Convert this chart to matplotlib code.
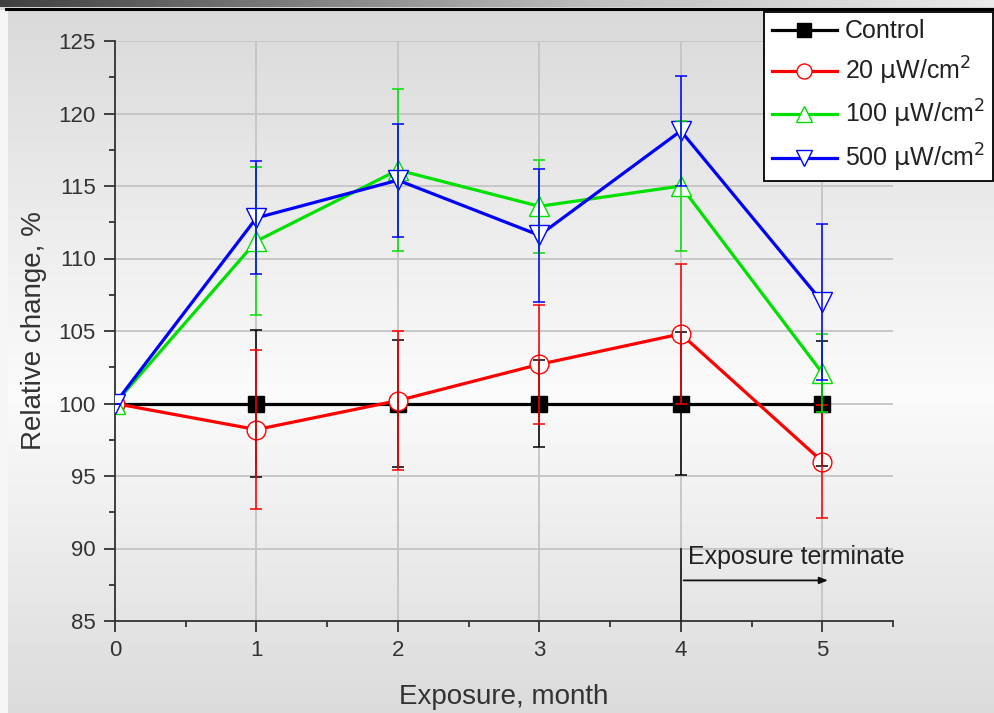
import matplotlib
matplotlib.use("Agg")
import matplotlib.pyplot as plt
import numpy as np

plt.rcParams["font.family"] = ["Liberation Sans", "DejaVu Sans"]

# data
months = [0, 1, 2, 3, 4, 5]
control = [100, 100, 100, 100, 100, 100]
control_err = [0, 5.1, 4.4, 3.0, 4.9, 4.3]
uw20 = [100, 98.2, 100.2, 102.7, 104.8, 96.0]
uw20_err = [0, 5.5, 4.8, 4.1, 4.8, 3.9]
uw100 = [100, 111.2, 116.1, 113.6, 115.0, 102.1]
uw100_err = [0, 5.1, 5.6, 3.2, 4.5, 2.7]
uw500 = [100, 112.8, 115.4, 111.6, 118.8, 107.0]
uw500_err = [0, 3.9, 3.9, 4.6, 3.8, 5.4]
labels = ["Control", r"20 $\mathrm{\mu}$W/cm$^2$", r"100 $\mathrm{\mu}$W/cm$^2$", r"500 $\mathrm{\mu}$W/cm$^2$"]

fig = plt.figure(figsize=(9.94, 7.13), dpi=100)

# background: grey-white-grey gradient, dark band on top
bg = fig.add_axes([0, 0, 1, 1], zorder=-10)
yy = np.linspace(0, 1, 300)
shade = np.interp(yy, [0, 0.45, 1.0], [0.86, 0.985, 0.85])
img = np.repeat(shade[:, None], 2, axis=1)
bg.imshow(np.dstack([img] * 3), extent=[0, 1, 0, 1], aspect="auto", origin="lower")
xx = np.linspace(0, 1, 200)
band = np.interp(xx, [0, 0.6, 1], [0.25, 0.75, 0.92])
bg.imshow(np.dstack([band[None, :]] * 3), extent=[0, 1, 1 - 7 / 713, 1], aspect="auto")
bg.add_patch(plt.Rectangle((0, 0), 8 / 994, 1 - 10 / 713, color="#f6f6f6", lw=0))
bg.plot([6 / 994, 1], [1 - 9 / 713, 1 - 9 / 713], color="black", lw=2.2)
bg.set_xlim(0, 1)
bg.set_ylim(0, 1)
bg.axis("off")

ax = fig.add_axes([115 / 994, 1 - 621 / 713, (893 - 115) / 994, (621 - 41) / 713])
ax.set_facecolor("none")

series = [
    (control, control_err, "black", "s", "black", 12),
    (uw20, uw20_err, "#ff0000", "o", "white", 13.5),
    (uw100, uw100_err, "#00e000", "^", "white", 15),
    (uw500, uw500_err, "#0000ff", "v", "white", 15),
]
handles = []
for i, (vals, err, col, mk, face, ms) in enumerate(series):
    h, = ax.plot(months, vals, color=col, lw=2.3, marker=mk, ms=ms, mfc=face, mec=col,
                 mew=1.0, zorder=3 + i)
    ax.errorbar(months, vals, yerr=err, fmt="none", ecolor=col, elinewidth=1.1,
                capsize=4.5, capthick=1.1, zorder=7 + i)
    handles.append(h)

ax.set_xlim(0, 5.5)
ax.set_ylim(85, 125)
ax.set_xticks(months)
ax.set_xticks(np.arange(0.5, 5.6, 1), minor=True)
ax.set_yticks(np.arange(85, 126, 5))
ax.set_yticks(np.arange(87.5, 125, 5), minor=True)
ax.grid(True, which="major", color="#c4c4c4", lw=1.3)
ax.set_axisbelow(True)
for s in ["top", "right"]:
    ax.spines[s].set_visible(False)
for s in ["left", "bottom"]:
    ax.spines[s].set_linewidth(1.3)
    ax.spines[s].set_color("#333333")
ax.tick_params(which="major", direction="out", length=8, width=1.3, color="#333333",
               labelsize=16, labelcolor="#333333", pad=6)
ax.tick_params(which="minor", direction="out", length=4.5, width=1.3, color="#333333")

ax.set_xlabel("Exposure, month", fontsize=20, color="#333333", labelpad=16)
ax.set_ylabel("Relative change, %", fontsize=20, color="#333333", labelpad=8)

# exposure terminate marker
ax.plot([4, 4], [85, 90], color="#222222", lw=1.3, zorder=12, clip_on=False)
ax.annotate("", xy=(5.06, 87.8), xytext=(4, 87.8),
            arrowprops=dict(arrowstyle="-|>,head_length=0.5,head_width=0.2",
                            color="#111111", lw=1.3), zorder=12)
ax.text(4.05, 89.4, "Exposure terminate", fontsize=18, color="#222222", va="center", ha="left")

leg = fig.legend(handles, labels, loc="upper left", bbox_to_anchor=(764 / 994, 1 - 12 / 713),
                 fontsize=18, frameon=True, fancybox=False, edgecolor="black", markerscale=0.8,
                 handlelength=2.6, handletextpad=0.35, labelspacing=0.45, borderpad=0.3,
                 borderaxespad=0)
leg.get_frame().set_linewidth(1.3)
leg.get_frame().set_facecolor("white")
leg.get_frame().set_alpha(1)
for t in leg.get_texts():
    t.set_color("#222222")

fig.savefig("out.png", dpi=100)
